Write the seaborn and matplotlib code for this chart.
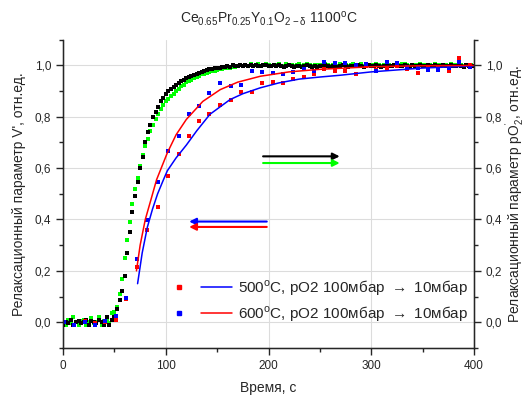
import numpy as np
import matplotlib
matplotlib.use("Agg")
import matplotlib.pyplot as plt
import seaborn as sns
from matplotlib.lines import Line2D
from matplotlib.legend_handler import HandlerTuple
from matplotlib.ticker import MultipleLocator, FuncFormatter

sns.set_style("white")
plt.rcParams["font.family"] = ["Liberation Sans", "DejaVu Sans"]
plt.rcParams["mathtext.default"] = "regular"

# dense series (black / green), sampled every 2.5 s
t_dense = np.arange(0, 400.1, 2.5)
black = [
    -0.01, 0.0, -0.005, 0.01, -0.01, 0.0, 0.005, -0.005, 0.0, 0.01,
    -0.01, 0.005, 0.0, -0.005, 0.01, 0.0, -0.01, 0.02, -0.01, 0.01,
    0.02, 0.05, 0.085, 0.12, 0.18, 0.27, 0.35, 0.43, 0.49, 0.545,
    0.60, 0.645, 0.70, 0.74, 0.77, 0.80, 0.82, 0.84, 0.86, 0.875,
    0.89, 0.90, 0.91, 0.918, 0.925, 0.932, 0.938, 0.944, 0.95, 0.955,
    0.96, 0.963, 0.967, 0.971, 0.975, 0.978, 0.982, 0.985, 0.988, 0.99,
    0.99, 0.992, 0.995, 0.993, 0.997, 0.995, 1.0, 0.996, 0.998, 1.0,
    0.997, 1.002, 0.998, 1.0, 0.996, 1.003, 0.999, 0.997, 1.0, 1.002,
    0.998, 0.996, 1.0, 0.999, 1.003, 0.997, 0.995, 0.998, 1.0, 0.996,
    0.994, 0.997, 0.999, 0.995, 0.998, 1.0, 0.996, 0.993, 0.997, 0.995,
    0.998, 0.996, 1.0, 0.997, 0.995, 0.999, 0.996, 0.994, 0.997, 1.0,
    0.998, 0.995, 0.997, 0.999, 0.996, 1.001, 0.998, 0.995, 0.997, 1.0,
    0.996, 0.998, 1.002, 0.997, 0.995, 0.999, 1.0, 0.997, 0.996, 1.001,
    0.998, 0.996, 0.999, 1.002, 0.997, 0.995, 1.0, 0.998, 0.996, 1.001,
    0.999, 0.997, 1.0, 0.998, 0.996, 1.002, 0.999, 0.997, 1.0, 0.998,
    0.996, 1.001, 0.999, 0.997, 1.0, 0.998, 0.995, 1.0, 0.998, 0.997,
    0.996,
]
green = [
    0.0, -0.01, 0.01, -0.005, 0.02, 0.0, -0.01, 0.005, 0.01, -0.01,
    0.0, 0.015, -0.005, 0.0, 0.02, -0.01, 0.005, 0.01, -0.005, 0.034,
    0.04, 0.06, 0.11, 0.17, 0.25, 0.32, 0.39, 0.46, 0.52, 0.56,
    0.61, 0.65, 0.685, 0.715, 0.745, 0.77, 0.79, 0.81, 0.83, 0.845,
    0.86, 0.87, 0.88, 0.89, 0.90, 0.91, 0.92, 0.925, 0.935, 0.94,
    0.945, 0.95, 0.955, 0.96, 0.965, 0.968, 0.97, 0.975, 0.978, 0.98,
    0.983, 0.985, 0.987, 0.99, 0.99, 0.992, 0.995, 0.993, 0.997, 1.0,
    0.998, 1.003, 0.999, 1.005, 0.998, 1.002, 1.004, 0.999, 1.001, 1.006,
    1.0, 0.998, 1.003, 1.002, 1.005, 0.999, 0.998, 1.004, 1.002, 1.0,
    0.998, 1.001, 1.004, 0.999, 1.003, 1.005, 1.0, 0.998, 1.002, 1.0,
    1.003, 1.001, 1.005, 1.0, 0.998, 1.003, 1.001, 0.999, 1.004, 1.002,
    1.0, 0.999, 1.003, 1.005, 1.0, 1.002, 1.004, 0.999, 1.001, 1.003,
    1.0, 1.002, 1.006, 1.001, 0.999, 1.003, 1.004, 1.0, 0.999, 1.003,
    1.002, 1.0, 1.004, 1.005, 1.001, 0.999, 1.003, 1.002, 1.0, 1.004,
    1.002, 1.0, 1.003, 1.001, 0.999, 1.005, 1.002, 1.0, 1.003, 1.001,
    0.999, 1.004, 1.002, 1.0, 1.003, 1.001, 0.998, 1.003, 1.001, 1.0,
    0.999,
]

# sparse series, ~10 s step
t_sparse = [1, 11, 21, 31, 41, 51.5, 61.5, 72, 82, 92.5,
            102.5, 112.5, 122.5, 132.5, 142.5, 153, 163, 173.5, 183.5, 194,
            204, 214, 224, 234.5, 244.5, 254.5, 264.5, 274.5, 285, 295,
            305, 315, 325, 335, 345.5, 355.5, 365.5, 375.5, 385.5, 396]
red_pts = [0.0, -0.01, 0.005, -0.005, 0.0, 0.008, 0.09, 0.216, 0.36, 0.45,
           0.568, 0.655, 0.724, 0.785, 0.8125, 0.846, 0.867, 0.897, 0.896, 0.931,
           0.935, 0.932, 0.948, 0.956, 0.968, 0.987, 0.978, 0.979, 0.965, 0.997,
           0.984, 0.99, 0.997, 0.987, 0.971, 0.995, 0.99, 0.979, 1.03, 1.0]
blue_pts = [0.0, -0.01, 0.0, -0.01, 0.005, 0.025, 0.095, 0.245, 0.398, 0.546,
            0.668, 0.724, 0.81, 0.841, 0.893, 0.93, 0.919, 0.922, 0.978, 0.975,
            0.97, 0.966, 0.976, 0.985, 0.978, 1.013, 1.008, 1.01, 1.002, 1.007,
            0.979, 1.013, 1.01, 0.995, 0.99, 0.984, 0.982, 0.99, 1.014, 0.995]

# fit curves
t_fit500 = [72.5, 77, 82, 87, 92, 97.7, 101.5, 110, 120, 130, 143, 162.5,
            175, 192, 210, 230, 250, 270, 300, 350, 400]
fit500 = [0.15, 0.27, 0.37, 0.44, 0.50, 0.555, 0.59, 0.64, 0.69, 0.745, 0.81, 0.867,
          0.89, 0.913, 0.932, 0.947, 0.955, 0.962, 0.975, 0.99, 0.998]
t_fit600 = [71.4, 75, 80, 85, 91, 101.5, 110, 120, 136, 153, 170, 192,
            220, 250, 300, 350, 400]
fit600 = [0.20, 0.30, 0.40, 0.47, 0.555, 0.66, 0.73, 0.79, 0.86, 0.906, 0.935, 0.958,
          0.975, 0.985, 0.995, 0.999, 1.0]

fig = plt.figure(figsize=(5.26, 3.98), dpi=100)
ax = fig.add_axes([0.12, 0.126, 0.781, 0.774])

sns.scatterplot(x=t_dense, y=green, marker="s", s=10, color="#00ff00", linewidth=0, ax=ax)
sns.scatterplot(x=t_dense, y=black, marker="s", s=10, color="black", linewidth=0, ax=ax)
sns.scatterplot(x=t_sparse, y=red_pts, marker="s", s=10, color="#ff0000", linewidth=0, ax=ax)
sns.scatterplot(x=t_sparse, y=blue_pts, marker="s", s=10, color="#0000ff", linewidth=0, ax=ax)
sns.lineplot(x=t_fit500, y=fit500, color="#0000ff", lw=1.1, ax=ax)
sns.lineplot(x=t_fit600, y=fit600, color="#ff0000", lw=1.1, ax=ax)

# arrows pointing to axes
arr = dict(arrowstyle="-|>", lw=1.5, mutation_scale=10)
ax.annotate("", xy=(272, 0.646), xytext=(192, 0.646), arrowprops=dict(color="black", **arr))
ax.annotate("", xy=(272, 0.62), xytext=(192, 0.62), arrowprops=dict(color="#00ff00", **arr))
ax.annotate("", xy=(120, 0.392), xytext=(201, 0.392), arrowprops=dict(color="#0000ff", **arr))
ax.annotate("", xy=(120, 0.371), xytext=(201, 0.371), arrowprops=dict(color="#ff0000", **arr))

ax.set_xlim(0, 400)
ax.set_ylim(-0.1, 1.1)
ax.xaxis.set_major_locator(MultipleLocator(100))
ax.xaxis.set_minor_locator(MultipleLocator(50))
ax.yaxis.set_major_locator(MultipleLocator(0.2))
ax.yaxis.set_minor_locator(MultipleLocator(0.1))
comma = FuncFormatter(lambda v, p: f"{v:.1f}".replace(".", ","))
ax.yaxis.set_major_formatter(comma)
ax.grid(True, which="major", color="#dcdcdc", lw=0.8)
ax.set_axisbelow(True)
for s in ["left", "right", "bottom"]:
    ax.spines[s].set_color("black")
    ax.spines[s].set_linewidth(1.0)
ax.spines["top"].set_visible(False)
ax.tick_params(which="major", direction="out", length=5, width=1, labelsize=8.5, left=True, bottom=True)
ax.tick_params(which="minor", direction="out", length=3, width=1, left=True, bottom=True)

ax2 = ax.twinx()
ax2.set_ylim(-0.1, 1.1)
ax2.yaxis.set_major_locator(MultipleLocator(0.2))
ax2.yaxis.set_minor_locator(MultipleLocator(0.1))
ax2.yaxis.set_major_formatter(comma)
ax2.spines["top"].set_visible(False)
ax2.tick_params(which="major", direction="out", length=5, width=1, labelsize=8.5, right=True)
ax2.tick_params(which="minor", direction="out", length=3, width=1, right=True)

ax.set_xlabel("Время, с", fontsize=10, labelpad=7)
ax.set_ylabel("Релаксационный параметр V', отн.ед.", fontsize=10, labelpad=6)
ax2.set_ylabel("Релаксационный параметр pO$_2^{'}$, отн.ед.", fontsize=10, labelpad=1)
ax.set_title(r"Ce$_{0.65}$Pr$_{0.25}$Y$_{0.1}$O$_{2-\delta}$ 1100$^{o}$C", fontsize=10, pad=12)

h_r = Line2D([], [], marker="s", ls="", color="#ff0000", ms=3.5)
h_b = Line2D([], [], marker="s", ls="", color="#0000ff", ms=3.5)
l_b = Line2D([], [], color="#0000ff", lw=1.1)
l_r = Line2D([], [], color="#ff0000", lw=1.1)
ax.legend([(h_r, l_b), (h_b, l_r)],
          [r"500$^{o}$C, pO2 100мбар $\rightarrow$ 10мбар", r"600$^{o}$C, pO2 100мбар $\rightarrow$ 10мбар"],
          handler_map={tuple: HandlerTuple(ndivide=None, pad=0.4)},
          handlelength=4.5, loc="lower right", bbox_to_anchor=(1.0, 0.06),
          frameon=False, fontsize=11, borderaxespad=0, handletextpad=0.35, labelspacing=0.45)

fig.savefig("out.png", dpi=100)
